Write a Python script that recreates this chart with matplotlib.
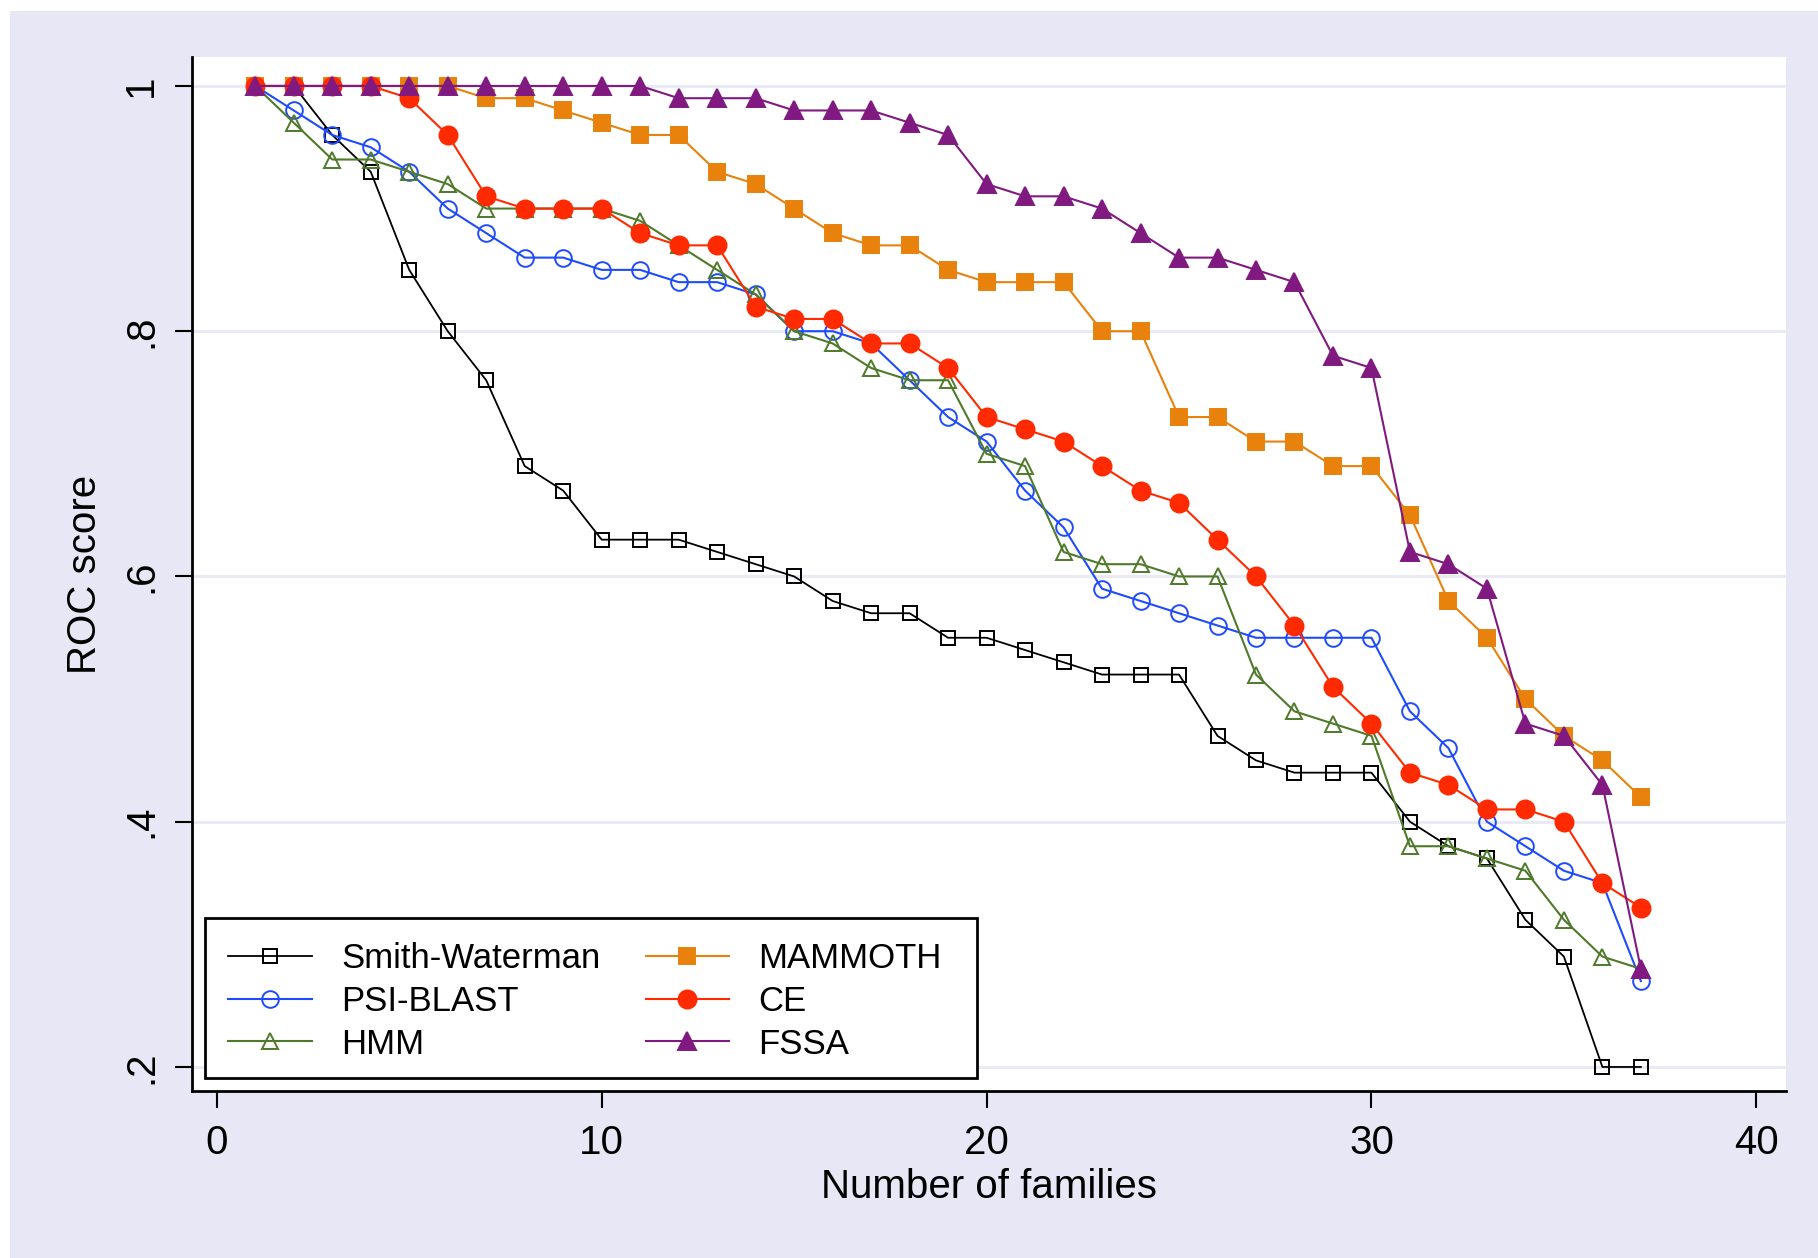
import matplotlib
matplotlib.use("Agg")
import matplotlib.pyplot as plt
from matplotlib.patches import Rectangle

plt.rcParams['font.family'] = ['Liberation Sans', 'DejaVu Sans']

# number of families on the x axis
families = list(range(1, 38))

smith_waterman = [1.00, 1.00, 0.96, 0.93, 0.85, 0.80, 0.76, 0.69, 0.67, 0.63,
                  0.63, 0.63, 0.62, 0.61, 0.60, 0.58, 0.57, 0.57, 0.55, 0.55,
                  0.54, 0.53, 0.52, 0.52, 0.52, 0.47, 0.45, 0.44, 0.44, 0.44,
                  0.40, 0.38, 0.37, 0.32, 0.29, 0.20, 0.20]
psi_blast = [1.00, 0.98, 0.96, 0.95, 0.93, 0.90, 0.88, 0.86, 0.86, 0.85,
             0.85, 0.84, 0.84, 0.83, 0.80, 0.80, 0.79, 0.76, 0.73, 0.71,
             0.67, 0.64, 0.59, 0.58, 0.57, 0.56, 0.55, 0.55, 0.55, 0.55,
             0.49, 0.46, 0.40, 0.38, 0.36, 0.35, 0.27]
hmm = [1.00, 0.97, 0.94, 0.94, 0.93, 0.92, 0.90, 0.90, 0.90, 0.90,
       0.89, 0.87, 0.85, 0.83, 0.80, 0.79, 0.77, 0.76, 0.76, 0.70,
       0.69, 0.62, 0.61, 0.61, 0.60, 0.60, 0.52, 0.49, 0.48, 0.47,
       0.38, 0.38, 0.37, 0.36, 0.32, 0.29, 0.28]
mammoth = [1.00, 1.00, 1.00, 1.00, 1.00, 1.00, 0.99, 0.99, 0.98, 0.97,
           0.96, 0.96, 0.93, 0.92, 0.90, 0.88, 0.87, 0.87, 0.85, 0.84,
           0.84, 0.84, 0.80, 0.80, 0.73, 0.73, 0.71, 0.71, 0.69, 0.69,
           0.65, 0.58, 0.55, 0.50, 0.47, 0.45, 0.42]
ce = [1.00, 1.00, 1.00, 1.00, 0.99, 0.96, 0.91, 0.90, 0.90, 0.90,
      0.88, 0.87, 0.87, 0.82, 0.81, 0.81, 0.79, 0.79, 0.77, 0.73,
      0.72, 0.71, 0.69, 0.67, 0.66, 0.63, 0.60, 0.56, 0.51, 0.48,
      0.44, 0.43, 0.41, 0.41, 0.40, 0.35, 0.33]
fssa = [1.00, 1.00, 1.00, 1.00, 1.00, 1.00, 1.00, 1.00, 1.00, 1.00,
        1.00, 0.99, 0.99, 0.99, 0.98, 0.98, 0.98, 0.97, 0.96, 0.92,
        0.91, 0.91, 0.90, 0.88, 0.86, 0.86, 0.85, 0.84, 0.78, 0.77,
        0.62, 0.61, 0.59, 0.48, 0.47, 0.43, 0.28]

x_ticks = [0, 10, 20, 30, 40]
y_ticks = [0.2, 0.4, 0.6, 0.8, 1.0]
y_tick_labels = ['.2', '.4', '.6', '.8', '1']

LAV = '#E7E7F5'
GRID = '#EAEAF7'

W, H = 1818, 1258
fig = plt.figure(figsize=(W / 100, H / 100), dpi=100)
fig.patch.set_facecolor('white')
fig.patches.append(Rectangle((10 / W, 0), 1 - 10 / W, 1 - 11 / H,
                             transform=fig.transFigure, facecolor=LAV,
                             edgecolor='none', zorder=-10))

ax = fig.add_axes([192 / W, 1 - 1091 / H, (1786 - 192) / W, (1091 - 57) / H])
ax.set_facecolor('white')

series = [
    ('Smith-Waterman', smith_waterman, 'black', 's', 'none', 9.5, 1.3),
    ('PSI-BLAST', psi_blast, '#1F4BFF', 'o', 'none', 12, 1.5),
    ('HMM', hmm, '#4E7A2A', '^', 'none', 11, 1.5),
    ('MAMMOTH', mammoth, '#E8820C', 's', '#E8820C', 12, 1.5),
    ('CE', ce, '#FF2A00', 'o', '#FF2A00', 13, 1.5),
    ('FSSA', fssa, '#801A80', '^', '#801A80', 13, 1.5),
]
for name, vals, col, mk, fc, ms, lw in series:
    ax.plot(families, vals, color=col, marker=mk, markerfacecolor=fc,
            markeredgecolor=col, markersize=ms, markeredgewidth=1.4,
            linewidth=lw, label=name)

ax.set_xlim(-0.644, 40.77)
ax.set_ylim(0.1804, 1.0236)
ax.set_xticks(x_ticks)
ax.set_yticks(y_ticks)
ax.set_yticklabels(y_tick_labels, rotation=90, va='center')

ax.yaxis.grid(True, color=GRID, linewidth=2.2)
ax.set_axisbelow(True)

for s in ['top', 'right']:
    ax.spines[s].set_visible(False)
for s in ['left', 'bottom']:
    ax.spines[s].set_linewidth(2.0)
    ax.spines[s].set_color('black')

ax.tick_params(axis='both', direction='out', length=12, width=1.5,
               labelsize=29, colors='black')
ax.tick_params(axis='x', pad=12)
ax.tick_params(axis='y', pad=11)

fig.text(85 / W, 1 - 574 / H, 'ROC score', rotation=90, ha='center',
         va='center', fontsize=29)
fig.text(989 / W, 1 - 1187 / H, 'Number of families', ha='center',
         va='center', fontsize=29)

# legend box drawn separately so its padding matches the original
ax.add_patch(Rectangle((13 / 1594, 13 / 1034), 772 / 1594, 160 / 1034,
                       transform=ax.transAxes, facecolor='white',
                       edgecolor='black', linewidth=2.0, zorder=4))
leg = ax.legend(ncol=2, loc='lower left', bbox_to_anchor=(19 / 1594, 0.0126),
                borderaxespad=0, fontsize=25, handlelength=2.4,
                handletextpad=0.85, columnspacing=1.3, labelspacing=0.28,
                borderpad=0.5, frameon=False)
leg.set_zorder(5)

fig.savefig('out.png', dpi=100, facecolor=fig.get_facecolor())
